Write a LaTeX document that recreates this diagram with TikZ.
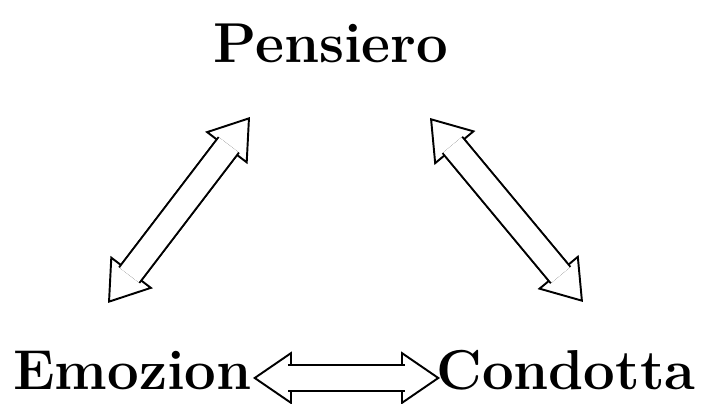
\documentclass[tikz,border=0pt]{standalone}
\usepackage{fontspec}
\usepackage{tikz}
\usetikzlibrary{arrows.meta}

\begin{document}
\begin{tikzpicture}[x=0.02cm,y=-0.02cm,
	lbl/.style={inner sep=0pt,font=\fontsize{32}{38}\selectfont\bfseries},
	tipw/.tip={Triangle[width=1.06cm,length=0.78cm,fill=white,line width=1.1pt]},
	dblarrow/.style={double,double distance=0.47cm,line width=1.1pt,tipw-tipw,
		postaction={draw,double,double distance=0.47cm,line width=1.1pt,-,
			shorten <=0.7cm,shorten >=0.7cm}}]
	\useasboundingbox (0,0) rectangle (701,404);
	%
	\node[lbl,anchor=base] (P) at (331,63) {Pensiero};
	\node[lbl,anchor=base west] (E) at (13,390) {Emozion};
	\node[lbl,anchor=base east] (C) at (696,390) {Condotta};
	%
	\draw[dblarrow] ([shift={(95,-87)}]E.base west) -- ([shift={(-81,54)}]P.base);
	\draw[dblarrow] ([shift={(99,55)}]P.base) -- ([shift={(-113,-88)}]C.base east);
	\draw[dblarrow] ([shift={(240,-12)}]E.base west) -- ([shift={(-256,-12)}]C.base east);
\end{tikzpicture}
\end{document}
